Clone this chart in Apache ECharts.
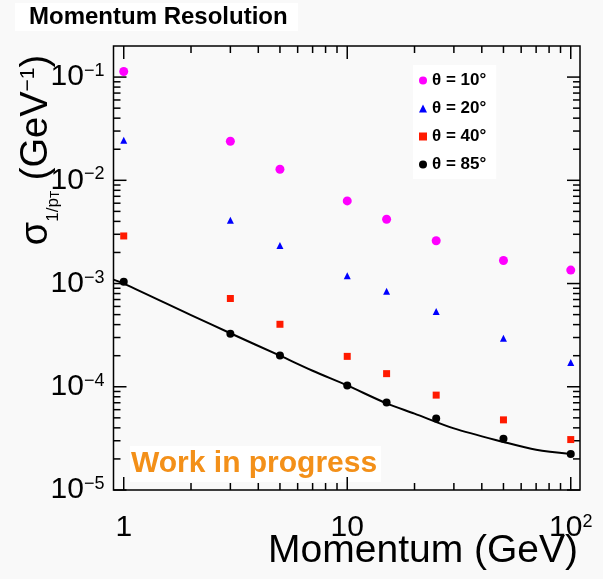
<!DOCTYPE html>
<html><head><meta charset="utf-8">
<script src="https://cdn.jsdelivr.net/npm/echarts@6/dist/echarts.min.js"></script>
<style>html,body{margin:0;padding:0;background:#f9f9f9}#c{width:603px;height:579px}</style>
</head><body><div id="c"></div>
<script>
// ---- data ----
const momenta = [1, 3, 5, 10, 15, 25, 50, 100];
const res10 = [0.1133, 0.0239, 0.0128, 0.00632, 0.0042, 0.0026, 0.00167, 0.00135];
const res20 = [0.0245, 0.0041, 0.00234, 0.00119, 0.00084, 0.000536, 0.000295, 0.000172];
const res40 = [0.00289, 0.000716, 0.000403, 0.000197, 0.000134, 0.000083, 0.0000478, 0.0000308];
const res85 = [0.00104, 0.000327, 0.000201, 0.000103, 0.0000703, 0.0000492, 0.0000313, 0.0000223];
const fitP = [0.9, 1, 2, 3, 5, 7, 10, 15, 20, 30, 50, 70, 100];
const fitRes = [0.00109, 0.00100, 0.000495, 0.00033, 0.000200, 0.000143, 0.000103, 0.000069, 0.000055, 0.0000395, 0.0000292, 0.0000245, 0.0000223];
const seriesNames = ['θ = 10°', 'θ = 20°', 'θ = 40°', 'θ = 85°'];
const X_MIN = 0.9, X_MAX = 110, Y_MIN = 1e-5, Y_MAX = 0.2;
const xMajorTicks = [1, 10, 100];
const yMajorTicks = [1e-5, 1e-4, 1e-3, 1e-2, 1e-1];

// tick positions (decorations): minor ticks 2..9 x each decade
const xMinorTicks = [], yMinorTicks = [];
[1, 10].forEach(d => { for (let k = 2; k <= 9; k++) xMinorTicks.push(k * d); });
[1e-5, 1e-4, 1e-3, 1e-2].forEach(d => { for (let k = 2; k <= 9; k++) yMinorTicks.push(k * d); });

const tickData = [];
xMajorTicks.forEach(v => tickData.push([v, 1e-3, 0]));
xMinorTicks.forEach(v => tickData.push([v, 1e-3, 1]));
yMajorTicks.forEach(v => tickData.push([1, v, 2]));
yMinorTicks.forEach(v => tickData.push([1, v, 3]));

function pairs(xs, ys) { return xs.map((x, i) => [x, ys[i]]); }

function renderTick(params, api) {
  const kind = api.value(2);
  const len = (kind % 2 === 0) ? 13 : 7;
  const style = { stroke: '#000', lineWidth: 1.5 };
  if (kind < 2) {
    const v = api.value(0);
    const b = api.coord([v, Y_MIN]), t = api.coord([v, Y_MAX]);
    return { type: 'group', children: [
      { type: 'line', shape: { x1: b[0], y1: b[1], x2: b[0], y2: b[1] - len }, style },
      { type: 'line', shape: { x1: t[0], y1: t[1], x2: t[0], y2: t[1] + len }, style }
    ] };
  } else {
    const v = api.value(1);
    const l = api.coord([X_MIN, v]), r = api.coord([X_MAX, v]);
    return { type: 'group', children: [
      { type: 'line', shape: { x1: l[0], y1: l[1], x2: l[0] + len, y2: l[1] }, style },
      { type: 'line', shape: { x1: r[0], y1: r[1], x2: r[0] - len, y2: r[1] }, style }
    ] };
  }
}

function decade(v) {
  const lg = Math.log10(v), n = Math.round(lg);
  return Math.abs(lg - n) > 1e-6 ? null : n;
}

const FONT = '"Liberation Sans", Arial, Helvetica, sans-serif';
const chart = echarts.init(document.getElementById('c'));
chart.setOption({
  backgroundColor: '#f9f9f9',
  animation: false,
  textStyle: { fontFamily: FONT },
  grid: { left: 113.5, right: 23, top: 46, bottom: 89, show: true, borderColor: '#000', borderWidth: 1.5, backgroundColor: 'transparent' },
  xAxis: {
    type: 'log', min: X_MIN, max: X_MAX,
    axisLine: { show: false }, axisTick: { show: false }, splitLine: { show: false }, minorTick: { show: false },
    axisLabel: {
      margin: 23, showMinLabel: true, showMaxLabel: true,
      formatter: v => { const n = decade(v); if (n === null) return ''; if (n === 0) return '{b|1}'; if (n === 1) return '{b|10}'; return '{b|10}{sup|' + n + '}'; },
      rich: {
        b: { fontSize: 30, lineHeight: 30, verticalAlign: 'top', color: '#000', fontFamily: FONT },
        sup: { fontSize: 18, lineHeight: 18, verticalAlign: 'top', color: '#000', fontFamily: FONT }
      }
    }
  },
  yAxis: {
    type: 'log', min: Y_MIN, max: Y_MAX,
    axisLine: { show: false }, axisTick: { show: false }, splitLine: { show: false }, minorTick: { show: false },
    axisLabel: {
      margin: 9,
      formatter: v => { const n = decade(v); if (n === null) return ''; return '{b|10}{sup|−' + (-n) + '}'; },
      rich: {
        b: { fontSize: 30, lineHeight: 30, verticalAlign: 'top', color: '#000', fontFamily: FONT },
        sup: { fontSize: 18, lineHeight: 18, verticalAlign: 'top', color: '#000', fontFamily: FONT }
      }
    }
  },
  legend: {
    orient: 'vertical', left: 413, top: 65,
    padding: [7, 10, 6, 6], itemGap: 11, itemWidth: 8, itemHeight: 8,
    backgroundColor: '#ffffff',
    data: seriesNames,
    textStyle: { fontSize: 17, fontWeight: 'bold', lineHeight: 17, color: '#000', fontFamily: FONT }
  },
  series: [
    { type: 'custom', silent: true, clip: false, renderItem: renderTick, data: tickData, z: 1 },
    { type: 'line', data: pairs(fitP, fitRes), smooth: 0.3, showSymbol: false, symbol: 'none',
      lineStyle: { color: '#000', width: 2 }, z: 2 },
    { name: seriesNames[0], type: 'scatter', data: pairs(momenta, res10), symbol: 'circle', symbolSize: 9, itemStyle: { color: '#ff00ff', opacity: 1 }, z: 3 },
    { name: seriesNames[1], type: 'scatter', data: pairs(momenta, res20), symbol: 'triangle', symbolSize: 7, itemStyle: { color: '#0000ff', opacity: 1 }, z: 3 },
    { name: seriesNames[2], type: 'scatter', data: pairs(momenta, res40), symbol: 'rect', symbolSize: 7, itemStyle: { color: '#ff1a00', opacity: 1 }, z: 3 },
    { name: seriesNames[3], type: 'scatter', data: pairs(momenta, res85), symbol: 'circle', symbolSize: 8, itemStyle: { color: '#000000', opacity: 1 }, z: 3 }
  ],
  graphic: [
    { type: 'rect', left: 15, top: 3, shape: { width: 283, height: 28 }, style: { fill: '#ffffff' }, z: 0 },
    { type: 'text', left: 29, top: 5, style: { text: 'Momentum Resolution', font: 'bold 24px ' + FONT, fill: '#000' }, z: 1 },
    { type: 'rect', left: 130, top: 446, shape: { width: 251, height: 36 }, style: { fill: '#ffffff' }, z: 0 },
    { type: 'text', left: 131, top: 449, style: { text: 'Work in progress', font: 'bold 30px ' + FONT, fill: '#f39019' }, z: 1 },
    { type: 'text', right: 25, top: 532, style: { text: 'Momentum (GeV)', font: '39px ' + FONT, fill: '#000' }, z: 1 },
    { type: 'text', x: 40, y: 150, rotation: Math.PI / 2,
      style: {
        text: '{s|σ}{sub|1/p}{subT|T}{m| (GeV}{sup|−1}{m|)}',
        align: 'center', verticalAlign: 'middle', fill: '#000',
        rich: {
          s: { fontSize: 38, lineHeight: 38, verticalAlign: 'top', fontFamily: FONT, fill: '#000' },
          m: { fontSize: 38, lineHeight: 38, verticalAlign: 'top', fontFamily: FONT, fill: '#000' },
          sub: { fontSize: 17, lineHeight: 44, verticalAlign: 'bottom', fontFamily: FONT, fill: '#000' },
          subT: { fontSize: 12, lineHeight: 44, verticalAlign: 'bottom', fontFamily: FONT, fill: '#000' },
          sup: { fontSize: 21, lineHeight: 21, verticalAlign: 'top', fontFamily: FONT, fill: '#000' }
        }
      }, z: 1 }
  ]
});
</script></body></html>
